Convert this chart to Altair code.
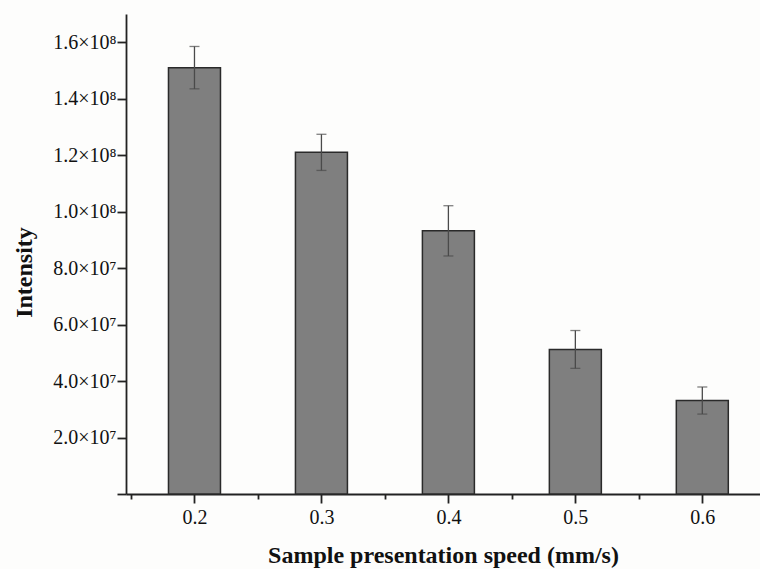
import altair as alt
import pandas as pd

speeds = [0.2, 0.3, 0.4, 0.5, 0.6]
intensity = [1.51e8, 1.21e8, 9.32e7, 5.12e7, 3.31e7]
error = [7.5e6, 6.4e6, 8.9e6, 6.7e6, 4.8e6]

y_ticks = [i * 10000000 for i in range(0, 18)]
x_ticks = [0.15, 0.2, 0.25, 0.3, 0.35, 0.4, 0.45, 0.5, 0.55, 0.6]

df = pd.DataFrame({"speed": speeds, "intensity": intensity, "err": error})
df["lo"] = df["intensity"] - df["err"]
df["hi"] = df["intensity"] + df["err"]

FONT = "Liberation Serif"
AX = "#222222"

x_scale = alt.Scale(domain=[0.15, 0.6415], nice=False, zero=False)
y_scale = alt.Scale(domain=[0, 170000000], nice=False)

x_axis = alt.Axis(
    values=x_ticks,
    labelExpr="round(datum.value*100) % 10 == 0 ? format(datum.value, '.1f') : ''",
    tickSize={"condition": {"test": "round(datum.value*100) % 10 == 0", "value": 9}, "value": 5},
    grid=False,
    domainColor=AX, domainWidth=1.8,
    tickColor=AX, tickWidth=1.8,
    labelFont=FONT, labelFontSize=20, labelColor="#111111", labelPadding=4,
    title="Sample presentation speed (mm/s)",
    titleFont=FONT, titleFontSize=24, titleFontWeight="bold", titleColor="#111111",
    titleY=68, titleBaseline="alphabetic",
)

y_axis = alt.Axis(
    values=y_ticks,
    labelExpr=(
        "(datum.value % 20000000 != 0 || datum.value == 0) ? '' : "
        "(datum.value >= 100000000 ? format(datum.value/1e8, '.1f') + '×10⁸' : "
        "format(datum.value/1e7, '.1f') + '×10⁷')"
    ),
    tickSize={"condition": {"test": "datum.value % 20000000 == 0", "value": 9}, "value": 5},
    grid=False,
    domainColor=AX, domainWidth=1.8,
    tickColor=AX, tickWidth=1.8,
    labelFont=FONT, labelFontSize=20, labelColor="#111111", labelPadding=1,
    title="Intensity",
    titleFont=FONT, titleFontSize=24, titleFontWeight="bold", titleColor="#111111",
    titleX=-102, titleY=258, titleAngle=-90, titleAlign="center", titleBaseline="middle",
)

base = alt.Chart(df)

bars = base.mark_bar(width=52, color="#7f7f7f", stroke="#2a2a2a", strokeWidth=1.5).encode(
    x=alt.X("speed:Q", scale=x_scale, axis=x_axis),
    y=alt.Y("intensity:Q", scale=y_scale, axis=y_axis),
)

rules = base.mark_rule(color="#4a4a4a", strokeWidth=1.3).encode(
    x=alt.X("speed:Q", scale=x_scale),
    y=alt.Y("lo:Q", scale=y_scale),
    y2="hi:Q",
)

caps_hi = base.mark_tick(color="#4a4a4a", thickness=1.3, size=10, orient="horizontal").encode(
    x=alt.X("speed:Q", scale=x_scale),
    y=alt.Y("hi:Q", scale=y_scale),
)
caps_lo = base.mark_tick(color="#4a4a4a", thickness=1.3, size=10, orient="horizontal").encode(
    x=alt.X("speed:Q", scale=x_scale),
    y=alt.Y("lo:Q", scale=y_scale),
)

chart = alt.layer(bars, rules, caps_hi, caps_lo).properties(
    width=634,
    height=480,
    padding={"left": 126, "top": 14, "right": 0, "bottom": 75},
    autosize=alt.AutoSizeParams(type="none"),
    background="#fdfdfc",
).configure_view(stroke=None)

chart.save("out.html", embed_options={"renderer": "svg", "actions": False})
